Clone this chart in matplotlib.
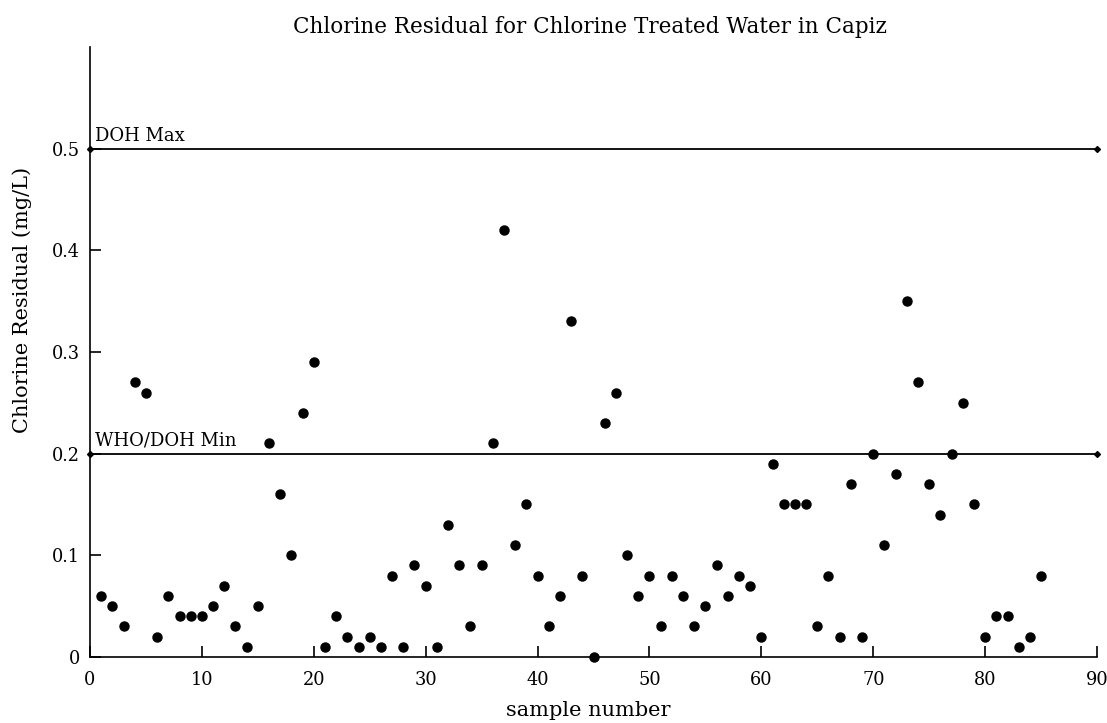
import matplotlib
matplotlib.use("Agg")
import matplotlib.pyplot as plt

# sample data
samples = list(range(1, 86))
residual = [0.06, 0.05, 0.03, 0.27, 0.26, 0.02, 0.06, 0.04, 0.04, 0.04,
            0.05, 0.07, 0.03, 0.01, 0.05, 0.21, 0.16, 0.10, 0.24, 0.29,
            0.01, 0.04, 0.02, 0.01, 0.02, 0.01, 0.08, 0.01, 0.09, 0.07,
            0.01, 0.13, 0.09, 0.03, 0.09, 0.21, 0.42, 0.11, 0.15, 0.08,
            0.03, 0.06, 0.33, 0.08, 0.00, 0.23, 0.26, 0.10, 0.06, 0.08,
            0.03, 0.08, 0.06, 0.03, 0.05, 0.09, 0.06, 0.08, 0.07, 0.02,
            0.19, 0.15, 0.15, 0.15, 0.03, 0.08, 0.02, 0.17, 0.02, 0.20,
            0.11, 0.18, 0.35, 0.27, 0.17, 0.14, 0.20, 0.25, 0.15, 0.02,
            0.04, 0.04, 0.01, 0.02, 0.08]

limit_x = [0, 90]
doh_max = 0.5
who_min = 0.2

plt.rcParams['font.family'] = ['DejaVu Serif']

fig = plt.figure(figsize=(11.07, 7.23), dpi=100)
ax = fig.add_axes([0.0813, 0.0913, 0.9097, 0.8437])

# limit lines
ax.plot(limit_x, [doh_max, doh_max], color='black', lw=1.3, marker='D', markersize=3, clip_on=False)
ax.plot(limit_x, [who_min, who_min], color='black', lw=1.3, marker='D', markersize=3, clip_on=False)
ax.text(0.45, doh_max + 0.004, "DOH Max", fontsize=13, va='bottom', ha='left')
ax.text(0.45, who_min + 0.004, "WHO/DOH Min", fontsize=13, va='bottom', ha='left')

# points
ax.plot(samples, residual, 'o', color='black', markersize=6.5, clip_on=False)

ax.set_xlim(0, 90)
ax.set_ylim(0, 0.6)
ax.set_xticks(range(0, 91, 10))
ax.set_yticks([0, 0.1, 0.2, 0.3, 0.4, 0.5])
ax.set_yticklabels(['0', '0.1', '0.2', '0.3', '0.4', '0.5'])
ax.tick_params(direction='in', length=8, width=1.2, labelsize=12.8)
ax.tick_params(axis='x', pad=10)
ax.tick_params(axis='y', pad=7)
ax.spines['top'].set_visible(False)
ax.spines['right'].set_visible(False)
ax.spines['left'].set_linewidth(1.2)
ax.spines['bottom'].set_linewidth(1.2)

ax.set_xlabel("sample number", fontsize=15)
ax.xaxis.set_label_coords(0.4945, -0.072)
ax.set_ylabel("Chlorine Residual (mg/L)", fontsize=15)
ax.yaxis.set_label_coords(-0.0576, 0.585)
fig.text(0.533, 0.963, "Chlorine Residual for Chlorine Treated Water in Capiz",
         fontsize=15.5, ha='center', va='center')

fig.savefig("out.png", dpi=100)
